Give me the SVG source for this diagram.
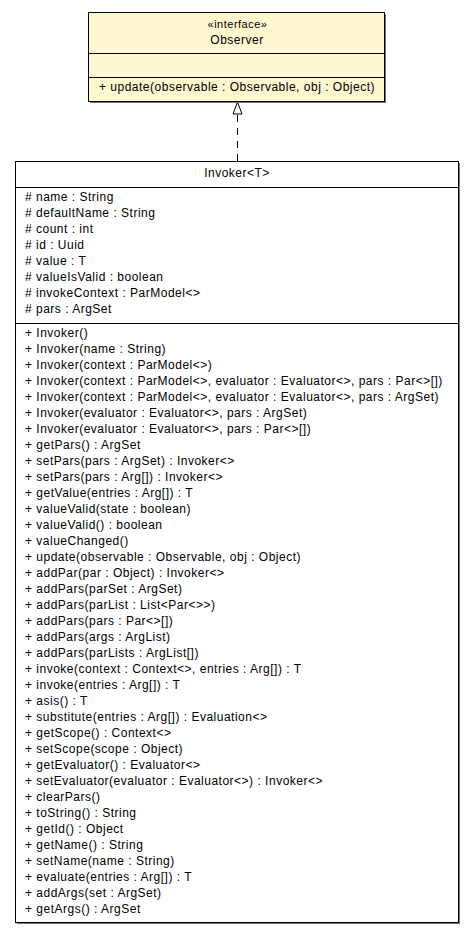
<svg xmlns="http://www.w3.org/2000/svg" width="475" height="933" viewBox="0 0 475 933">
<style>
text{font-family:"Liberation Sans",Arial,sans-serif;font-size:12px;letter-spacing:0.5px;fill:#000}
.c{text-anchor:middle}
.box{stroke:#000;stroke-width:1}
.sh{fill:#777}
.sep{stroke:#000;stroke-width:1}
</style>
<rect width="475" height="933" fill="#fff"/>
<g id="connectors">
<line x1="237.5" y1="161" x2="237.5" y2="114" stroke="#000" stroke-width="1" stroke-dasharray="7,6"/>
<path d="M237.5,102 L242,114 L233,114 Z" fill="#fff" stroke="#000" stroke-width="1"/>
</g>
<g id="observer">
<rect x="90" y="14" width="296" height="89" class="sh"/>
<rect x="88.5" y="12.5" width="296" height="89" fill="#fef7cf" class="box"/>
<line x1="88.5" y1="53.5" x2="384.5" y2="53.5" class="sep"/>
<line x1="88.5" y1="77.5" x2="384.5" y2="77.5" class="sep"/>
<text x="237.5" y="28" class="c" style="font-size:11px">«interface»</text>
<text x="237" y="44" class="c">Observer</text>
<text x="99" y="91">+ update(observable : Observable, obj : Object)</text>
</g>
<g id="invoker">
<rect x="17" y="163" width="443" height="761" class="sh"/>
<rect x="15.5" y="161.5" width="443" height="761" fill="#fff" class="box"/>
<line x1="15.5" y1="187.5" x2="458.5" y2="187.5" class="sep"/>
<line x1="15.5" y1="323.5" x2="458.5" y2="323.5" class="sep"/>
<text x="237" y="177" class="c">Invoker&lt;T&gt;</text>
<text x="25" y="201"># name : String</text>
<text x="25" y="217"># defaultName : String</text>
<text x="25" y="233"># count : int</text>
<text x="25" y="249"># id : Uuid</text>
<text x="25" y="265"># value : T</text>
<text x="25" y="281"># valueIsValid : boolean</text>
<text x="25" y="297"># invokeContext : ParModel&lt;&gt;</text>
<text x="25" y="313"># pars : ArgSet</text>
<text x="25" y="337">+ Invoker()</text>
<text x="25" y="353">+ Invoker(name : String)</text>
<text x="25" y="369">+ Invoker(context : ParModel&lt;&gt;)</text>
<text x="25" y="385">+ Invoker(context : ParModel&lt;&gt;, evaluator : Evaluator&lt;&gt;, pars : Par&lt;&gt;[])</text>
<text x="25" y="401">+ Invoker(context : ParModel&lt;&gt;, evaluator : Evaluator&lt;&gt;, pars : ArgSet)</text>
<text x="25" y="417">+ Invoker(evaluator : Evaluator&lt;&gt;, pars : ArgSet)</text>
<text x="25" y="433">+ Invoker(evaluator : Evaluator&lt;&gt;, pars : Par&lt;&gt;[])</text>
<text x="25" y="449">+ getPars() : ArgSet</text>
<text x="25" y="465">+ setPars(pars : ArgSet) : Invoker&lt;&gt;</text>
<text x="25" y="481">+ setPars(pars : Arg[]) : Invoker&lt;&gt;</text>
<text x="25" y="497">+ getValue(entries : Arg[]) : T</text>
<text x="25" y="513">+ valueValid(state : boolean)</text>
<text x="25" y="529">+ valueValid() : boolean</text>
<text x="25" y="545">+ valueChanged()</text>
<text x="25" y="561">+ update(observable : Observable, obj : Object)</text>
<text x="25" y="577">+ addPar(par : Object) : Invoker&lt;&gt;</text>
<text x="25" y="593">+ addPars(parSet : ArgSet)</text>
<text x="25" y="609">+ addPars(parList : List&lt;Par&lt;&gt;&gt;)</text>
<text x="25" y="625">+ addPars(pars : Par&lt;&gt;[])</text>
<text x="25" y="641">+ addPars(args : ArgList)</text>
<text x="25" y="657">+ addPars(parLists : ArgList[])</text>
<text x="25" y="673">+ invoke(context : Context&lt;&gt;, entries : Arg[]) : T</text>
<text x="25" y="689">+ invoke(entries : Arg[]) : T</text>
<text x="25" y="705">+ asis() : T</text>
<text x="25" y="721">+ substitute(entries : Arg[]) : Evaluation&lt;&gt;</text>
<text x="25" y="737">+ getScope() : Context&lt;&gt;</text>
<text x="25" y="753">+ setScope(scope : Object)</text>
<text x="25" y="769">+ getEvaluator() : Evaluator&lt;&gt;</text>
<text x="25" y="785">+ setEvaluator(evaluator : Evaluator&lt;&gt;) : Invoker&lt;&gt;</text>
<text x="25" y="801">+ clearPars()</text>
<text x="25" y="817">+ toString() : String</text>
<text x="25" y="833">+ getId() : Object</text>
<text x="25" y="849">+ getName() : String</text>
<text x="25" y="865">+ setName(name : String)</text>
<text x="25" y="881">+ evaluate(entries : Arg[]) : T</text>
<text x="25" y="897">+ addArgs(set : ArgSet)</text>
<text x="25" y="913">+ getArgs() : ArgSet</text>
</g>
</svg>
